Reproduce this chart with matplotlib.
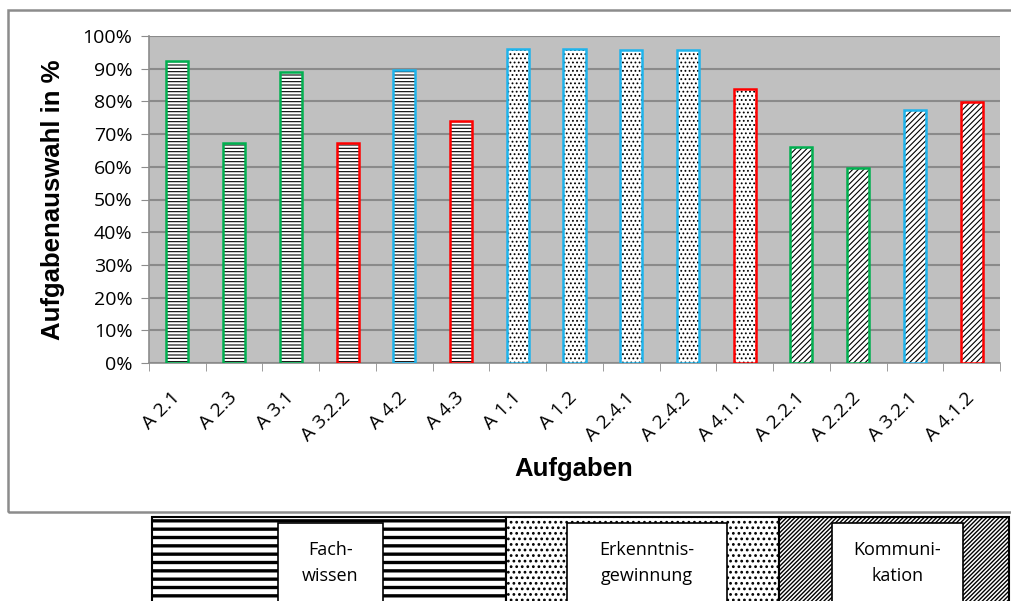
import matplotlib.pyplot as plt
import matplotlib.patches as mpatches
import matplotlib.transforms as mtransforms
import numpy as np

plt.rcParams['hatch.linewidth'] = 0.8

# data
tasks = ['A 2.1', 'A 2.3', 'A 3.1', 'A 3.2.2', 'A 4.2', 'A 4.3',
         'A 1.1', 'A 1.2', 'A 2.4.1', 'A 2.4.2', 'A 4.1.1',
         'A 2.2.1', 'A 2.2.2', 'A 3.2.1', 'A 4.1.2']
share = [0.925, 0.674, 0.889, 0.674, 0.896, 0.74,
         0.96, 0.96, 0.957, 0.957, 0.838,
         0.662, 0.597, 0.774, 0.797]
# competence area of each task (0 Fachwissen, 1 Erkenntnisgewinnung, 2 Kommunikation)
area = [0, 0, 0, 0, 0, 0, 1, 1, 1, 1, 1, 2, 2, 2, 2]
# outline colour group of each task
outline = ['g', 'g', 'g', 'r', 'b', 'r', 'b', 'b', 'b', 'b', 'r', 'g', 'g', 'b', 'r']
legend_names = ['Fach-\nwissen', 'Erkenntnis-\ngewinnung', 'Kommuni-\nkation']

outline_colors = {'g': '#00B050', 'r': '#FF0000', 'b': '#1EB4EC'}
bar_hatch = ['-----', '....', '//////']
legend_hatch = ['--', '...', '////////']
legend_hatch_lw = [2.4, 1.2, 1.0]

fig = plt.figure(figsize=(10.11, 6.01), dpi=100)
W, H = 1011, 601

def fx(px):
    return px / W

def fy(py):
    return 1 - py / H

# outer chart frame
fig.patches.append(mpatches.Rectangle((fx(8), fy(512)), fx(1020) - fx(8), fy(10) - fy(512),
                                      transform=fig.transFigure, fill=False,
                                      edgecolor='#8c8c8c', linewidth=1.8))

ax = fig.add_axes([fx(149), fy(363), fx(1000) - fx(149), fy(36) - fy(363)])
ax.set_facecolor('#C0C0C0')

x = np.arange(len(tasks))
for i in x:
    ax.bar(i, share[i], width=0.39, color='white', edgecolor='black',
           linewidth=0, hatch=bar_hatch[area[i]], zorder=3)
    ax.bar(i, share[i], width=0.39, color='none',
           edgecolor=outline_colors[outline[i]], linewidth=1.8, zorder=4)

ax.set_xlim(-0.5, len(tasks) - 0.5)
ax.set_ylim(0, 1)
ax.set_yticks(np.arange(0, 1.01, 0.1))
ax.set_yticklabels(['%d%%' % round(v * 100) for v in np.arange(0, 1.01, 0.1)],
                   fontsize=14, family='Open Sans')
ax.yaxis.grid(True, color='#8a8a8a', linewidth=1.5, zorder=1)
ax.set_axisbelow(True)

ax.set_xticks(x)
ax.set_xticklabels(tasks, rotation=45, ha='right', va='center',
                   rotation_mode='anchor', fontsize=14, family='Open Sans')
shift = mtransforms.ScaledTranslation(5 / 100, 0, fig.dpi_scale_trans)
for lab in ax.get_xticklabels():
    lab.set_transform(lab.get_transform() + shift)
ax.set_xticks(np.arange(-0.5, len(tasks), 1), minor=True)
ax.tick_params(axis='x', which='major', length=0, pad=23)
ax.tick_params(axis='x', which='minor', length=6, color='#8c8c8c')
ax.tick_params(axis='y', length=6, color='#8c8c8c', pad=6)

for side in ['top', 'right']:
    ax.spines[side].set_visible(False)
ax.spines['left'].set_color('#8c8c8c')
ax.spines['bottom'].set_color('#8c8c8c')
ax.spines['left'].set_linewidth(1.2)
ax.spines['bottom'].set_linewidth(1.2)

ax.set_ylabel('Aufgabenauswahl in %', fontsize=18.5, fontweight='bold', family='Liberation Sans')
ax.yaxis.set_label_coords((65 - 149) / 851, 0.5)
ax.set_xlabel('Aufgaben', fontsize=18.5, fontweight='bold', family='Liberation Sans')
ax.xaxis.set_label_coords((574 - 149) / 851, (363 - 457) / 327)

# pattern legend below the chart, laid out in pixel units
lax = fig.add_axes([0, 0, 1, 1], zorder=5)
lax.set_xlim(0, W)
lax.set_ylim(H, 0)
lax.axis('off')
seg_edges = [152, 506, 779, 1009]
boxes = [(278, 383), (567, 727), (832, 963)]
for k in range(3):
    with plt.rc_context({'hatch.linewidth': legend_hatch_lw[k]}):
        seg = mpatches.Rectangle((seg_edges[k], 517), seg_edges[k + 1] - seg_edges[k], 100,
                                 facecolor='white', edgecolor='black', linewidth=1.5,
                                 hatch=legend_hatch[k])
    lax.add_patch(seg)
    bx0, bx1 = boxes[k]
    lax.add_patch(mpatches.Rectangle((bx0, 523), bx1 - bx0, 100, facecolor='white',
                                     edgecolor='black', linewidth=1.2))
    lax.text((bx0 + bx1) / 2, 563, legend_names[k], ha='center', va='center',
             fontsize=13, family='Open Sans', linespacing=1.55)

fig.savefig('out.png', dpi=100)
